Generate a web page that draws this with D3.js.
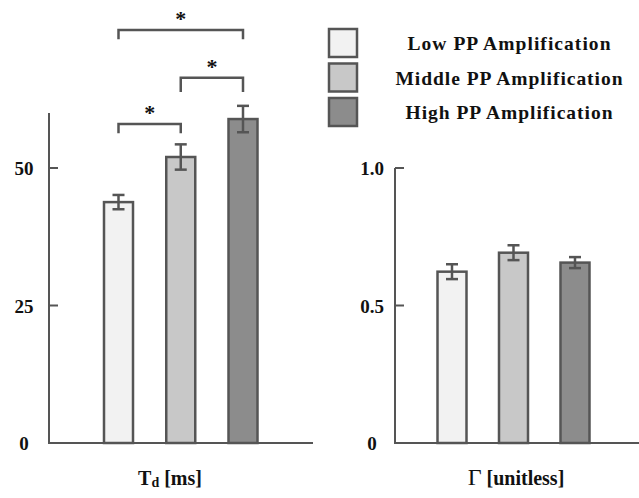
<!DOCTYPE html>
<html><head><meta charset="utf-8">
<script src="https://cdn.jsdelivr.net/npm/d3@7"></script>
<style>
body{margin:0;background:#fff;}
svg{display:block;font-family:"Liberation Serif","Times New Roman",serif;}
</style></head>
<body><svg id="c" width="639" height="498"></svg>
<script>
const categories = ["Low PP Amplification","Middle PP Amplification","High PP Amplification"];
const tdValues = [43.8, 52.0, 58.9];
const tdErrors = [1.3, 2.3, 2.4];
const gammaValues = [0.623, 0.692, 0.656];
const gammaErrors = [0.027, 0.027, 0.02];
const tdTicks = [0, 25, 50];
const gammaTicks = [0, 0.5, 1.0];
const gammaTickLabels = ["0", "0.5", "1.0"];
const sigPairs = [[0,1],[1,2],[0,2]];
const sigTop = [58.0, 66.4, 75.1];
const sigArm = [56.3, 63.8, 73.4];
const fills = ["#f2f2f2","#c8c8c8","#8c8c8c"];
const stroke = "#555";

const svg = d3.select("#c");

function panel(opts){
  const g = svg.append("g");
  const y = d3.scaleLinear().domain(opts.domain).range([443, opts.top]);
  const x = d3.scalePoint().domain(categories).range(opts.centers);
  const bw = 29;
  g.append("line").attr("x1",opts.ax).attr("x2",opts.ax).attr("y1",y(0)).attr("y2",y(opts.domain[1]))
    .attr("stroke",stroke).attr("stroke-width",2);
  g.append("line").attr("x1",opts.ax-1).attr("x2",opts.xend).attr("y1",y(0)).attr("y2",y(0))
    .attr("stroke",stroke).attr("stroke-width",2);
  opts.ticks.forEach((t,i)=>{
    if(t!==0){
      g.append("line").attr("x1",opts.ax).attr("x2",opts.ax+9).attr("y1",y(t)).attr("y2",y(t))
        .attr("stroke",stroke).attr("stroke-width",2);
    }
    g.append("text").attr("x",opts.labelX).attr("y",y(t)+7).attr("text-anchor","middle")
      .attr("font-size",19).attr("font-weight","bold").attr("fill","#111").text(opts.tickLabels[i]);
  });
  categories.forEach((c,i)=>{
    const cx = x(c);
    g.append("rect").attr("x",cx-bw/2).attr("y",y(opts.values[i])).attr("width",bw)
      .attr("height",y(0)-y(opts.values[i])).attr("fill",fills[i]).attr("stroke",stroke).attr("stroke-width",2.5);
    const hi = y(opts.values[i]+opts.errors[i]), lo = y(opts.values[i]-opts.errors[i]);
    g.append("line").attr("x1",cx).attr("x2",cx).attr("y1",hi).attr("y2",lo).attr("stroke",stroke).attr("stroke-width",2.5);
    [hi,lo].forEach(v=>g.append("line").attr("x1",cx-6).attr("x2",cx+6).attr("y1",v).attr("y2",v)
      .attr("stroke",stroke).attr("stroke-width",2.5));
  });
  g.append("text").attr("x",opts.titleX).attr("y",485).attr("text-anchor","middle")
    .attr("font-size",20).attr("font-weight","bold").attr("fill","#111").call(opts.title);
  return {x,y,g};
}

const L = panel({domain:[0,60], top:113, centers:[118.5,243], ax:49, xend:313, labelX:24,
  ticks:tdTicks, tickLabels:tdTicks.map(String), values:tdValues, errors:tdErrors, titleX:170,
  title:t=>{t.append("tspan").text("T");t.append("tspan").attr("font-size",14).attr("dy",2).text("d");
    t.append("tspan").attr("dy",-2).text(" [ms]");}});

sigPairs.forEach((p,i)=>{
  const x1 = L.x(categories[p[0]]), x2 = L.x(categories[p[1]]);
  const yt = L.y(sigTop[i]), ya = L.y(sigArm[i]);
  L.g.append("path").attr("d",`M${x1},${ya}V${yt}H${x2}V${ya}`).attr("fill","none")
    .attr("stroke",stroke).attr("stroke-width",2.5);
  L.g.append("text").attr("x",(x1+x2)/2).attr("y",yt-4).attr("text-anchor","middle")
    .attr("font-size",22).attr("font-weight","bold").attr("fill","#111").text("*");
});

panel({domain:[0,1], top:168, centers:[452,575], ax:395, xend:639, labelX:372,
  ticks:gammaTicks, tickLabels:gammaTickLabels, values:gammaValues, errors:gammaErrors, titleX:516,
  title:t=>{t.append("tspan").attr("font-weight","normal").attr("font-size",24).text("Γ");
    t.append("tspan").text("  [unitless]");}});

const legW = [203,227,207];
categories.forEach((c,i)=>{
  const yy = 29 + i*34.5;
  svg.append("rect").attr("x",329).attr("y",yy).attr("width",28).attr("height",28)
    .attr("fill",fills[i]).attr("stroke",stroke).attr("stroke-width",2.5);
  svg.append("text").attr("x",509).attr("y",yy+21).attr("text-anchor","middle")
    .attr("font-size",19.5).attr("font-weight","bold").attr("fill","#111")
    .attr("textLength",legW[i]).attr("lengthAdjust","spacing").text(c);
});
</script></body></html>
